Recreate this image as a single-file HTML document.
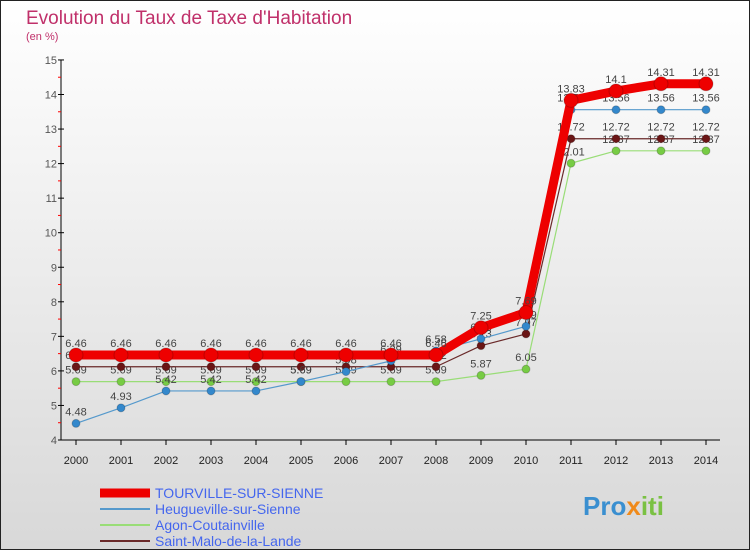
<!DOCTYPE html>
<html><head><meta charset="utf-8"><style>
body{margin:0;width:750px;height:550px;overflow:hidden;font-family:"Liberation Sans",sans-serif}
</style></head><body>
<svg id="c" width="750" height="550" style="display:block">
<defs><linearGradient id="bg" x1="0" y1="0" x2="0" y2="1"><stop offset="0" stop-color="#ffffff"/><stop offset="1" stop-color="#d8d8d8"/></linearGradient></defs>
<rect x="0.5" y="0.5" width="749" height="549" fill="url(#bg)" stroke="#222"/>
<text x="26" y="24" font-size="19" fill="#c0306a">Evolution du Taux de Taxe d'Habitation</text>
<text x="26" y="40" font-size="11" fill="#c0306a">(en %)</text>
<g id="axes"></g><g id="series"></g><g id="legend"></g>
<text x="583" y="515" font-size="26" font-weight="bold" fill="#3a8fd0">Pro<tspan fill="#f08a1a">x</tspan><tspan fill="#7ac143">iti</tspan></text>
</svg>
<script>
const years=[2000,2001,2002,2003,2004,2005,2006,2007,2008,2009,2010,2011,2012,2013,2014];
const yTicks=[4,5,6,7,8,9,10,11,12,13,14,15];
const tourville=[6.46,6.46,6.46,6.46,6.46,6.46,6.46,6.46,6.46,7.25,7.69,13.83,14.1,14.31,14.31];
const heugueville=[4.48,4.93,5.42,5.42,5.42,5.69,5.98,6.29,6.58,6.93,7.29,13.56,13.56,13.56,13.56];
const agon=[5.69,5.69,5.69,5.69,5.69,5.69,5.69,5.69,5.69,5.87,6.05,12.01,12.37,12.37,12.37];
const stmalo=[6.12,6.12,6.12,6.12,6.12,6.12,6.12,6.12,6.12,6.73,7.07,12.72,12.72,12.72,12.72];
const names=["TOURVILLE-SUR-SIENNE","Heugueville-sur-Sienne","Agon-Coutainville","Saint-Malo-de-la-Lande"];
const NS="http://www.w3.org/2000/svg";
const X=i=>76+i*45, Y=v=>440-(v-4)*34.55;
function mk(t,a,p){const e=document.createElementNS(NS,t);for(const k in a)e.setAttribute(k,a[k]);p.appendChild(e);return e;}
const ax=document.getElementById('axes');
const yl=mk('line',{x1:61,y1:60,x2:61,y2:440,stroke:'#000'},ax);


const xl=mk('line',{x1:61,y1:440,x2:720,y2:440,stroke:'#000'},ax);


yTicks.forEach(v=>{
 mk('line',{x1:58,y1:Y(v),x2:64,y2:Y(v),stroke:'#000'},ax);
 if(v<15) mk('line',{x1:58,y1:Y(v+0.5),x2:61,y2:Y(v+0.5),stroke:'#f00'},ax);
 const t=mk('text',{x:57,y:Y(v)+4,'font-size':11,fill:'#555','text-anchor':'end'},ax);t.textContent=v;
 
 
});
years.forEach((y,i)=>{
 mk('line',{x1:X(i),y1:440,x2:X(i),y2:445,stroke:'#000'},ax);
 const t=mk('text',{x:X(i),y:464,'font-size':11,fill:'#222','text-anchor':'middle'},ax);t.textContent=y;
 
 
});
const sg=document.getElementById('series');
const defs=[[agon,'#99dd77','#77cc44',1.2,4,'agon'],[stmalo,'#6a2a2a','#6a1515',1.2,4,'saint-malo'],[heugueville,'#5599cc','#3388cc',1.2,4,'heugueville'],[tourville,'#ee0000','#ee0000',9,7,'tourville']];
defs.forEach(d=>{
 const g=mk('g',{},sg);
 
 
 const l=mk('polyline',{points:d[0].map((v,i)=>X(i)+','+Y(v)).join(' '),fill:'none',stroke:d[1],'stroke-width':d[3],'stroke-linejoin':'round'},g);
 
 
 d[0].forEach((v,i)=>{
  const c=mk('circle',{cx:X(i),cy:Y(v),r:d[4],fill:d[2],stroke:'#0003'},g);
  
  
  const t=mk('text',{x:X(i),y:Y(v)-8,'font-size':11,fill:'#444','text-anchor':'middle'},g);t.textContent=v;
  
  
 });
});
const lg=document.getElementById('legend');
const lc=[['#ee0000',9],['#5599cc',2],['#99dd77',2],['#6a2a2a',2]];
names.forEach((n,i)=>{
 const y=493+i*16;
 const g=mk('g',{},lg);
 
 
 mk('line',{x1:100,y1:y,x2:150,y2:y,stroke:lc[i][0],'stroke-width':lc[i][1]},g);
 const t=mk('text',{x:155,y:y+5,'font-size':14,fill:'#4466ee'},g);t.textContent=n;
});
</script>
</body></html>
